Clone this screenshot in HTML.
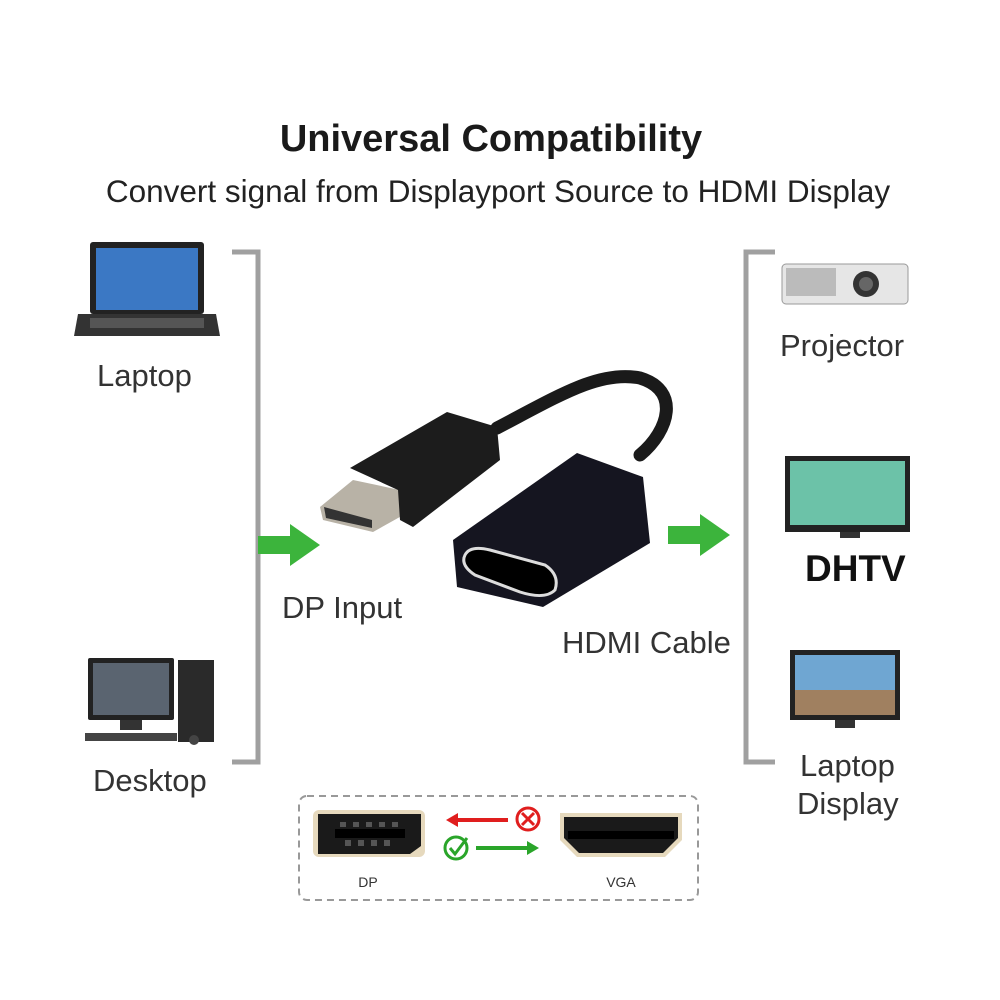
<!DOCTYPE html>
<html><head><meta charset="utf-8"><style>
body{margin:0;background:#fff;width:1000px;height:1000px;overflow:hidden;font-family:"Liberation Sans",sans-serif}
svg{display:block}
</style></head><body>
<svg width="1000" height="1000" viewBox="0 0 1000 1000" font-family="Liberation Sans, sans-serif">
<rect width="1000" height="1000" fill="#fff"/>
<text x="491" y="151" font-size="38" font-weight="bold" text-anchor="middle" fill="#1a1a1a">Universal Compatibility</text>
<text x="498" y="202" font-size="31.5" text-anchor="middle" fill="#222">Convert signal from Displayport Source to HDMI Display</text>
<!-- brackets -->
<path d="M232 252 H258 V762 H232" fill="none" stroke="#a0a0a0" stroke-width="5"/>
<path d="M775 252 H746 V762 H775" fill="none" stroke="#a0a0a0" stroke-width="5"/>
<!-- green arrows -->
<polygon points="258,536 290,536 290,524 320,545 290,566 290,554 258,554" fill="#3cb43c"/>
<polygon points="668,526 700,526 700,514 730,535 700,556 700,544 668,544" fill="#3cb43c"/>
<!-- laptop -->
<rect x="90" y="242" width="114" height="72" rx="3" fill="#222"/>
<rect x="96" y="248" width="102" height="62" fill="#3b78c4"/>
<polygon points="78,314 216,314 220,336 74,336" fill="#333"/>
<rect x="90" y="318" width="114" height="10" fill="#555"/>
<text x="97" y="386" font-size="31" fill="#333">Laptop</text>
<!-- desktop -->
<rect x="88" y="658" width="86" height="62" rx="2" fill="#222"/>
<rect x="93" y="663" width="76" height="52" fill="#5a6470"/>
<rect x="120" y="720" width="22" height="10" fill="#333"/>
<rect x="178" y="660" width="36" height="82" fill="#2a2a2a"/>
<rect x="85" y="733" width="92" height="8" fill="#444"/>
<circle cx="194" cy="740" r="5" fill="#444"/>
<text x="93" y="791" font-size="31" fill="#333">Desktop</text>
<!-- DP input / HDMI cable labels -->
<text x="282" y="618" font-size="31" fill="#333">DP Input</text>
<text x="562" y="653" font-size="31" fill="#333">HDMI Cable</text>
<!-- adapter -->
<path d="M497 428 C560 395 600 370 640 378 C680 390 670 430 640 455" fill="none" stroke="#1a1a1a" stroke-width="13" stroke-linecap="round"/>
<polygon points="353,480 400,490 407,513 373,532 323,520 320,507" fill="#b8b2a6"/>
<polygon points="324,507 372,520 372,528 326,518" fill="#333"/>
<polygon points="350,468 447,412 497,427 500,460 413,527 400,520 398,490" fill="#1c1c1c"/>
<polygon points="453,540 577,453 643,477 650,543 543,607 457,587" fill="#151520"/>
<path d="M465 555 Q470 545 490 550 L545 565 Q560 575 555 590 Q545 600 520 592 L475 575 Q460 565 465 555Z" fill="#000" stroke="#ddd" stroke-width="3"/>
<!-- projector -->
<rect x="782" y="264" width="126" height="40" rx="4" fill="#e6e6e6" stroke="#999"/>
<rect x="786" y="268" width="50" height="28" fill="#bbb"/>
<circle cx="866" cy="284" r="13" fill="#333"/>
<circle cx="866" cy="284" r="7" fill="#666"/>
<text x="780" y="356" font-size="31" fill="#333">Projector</text>
<!-- TV -->
<rect x="785" y="456" width="125" height="76" fill="#222"/>
<rect x="790" y="461" width="115" height="64" fill="#6cc2a8"/>
<rect x="840" y="532" width="20" height="6" fill="#333"/>
<text x="805" y="581" font-size="37" font-weight="bold" fill="#111">DHTV</text>
<!-- monitor -->
<rect x="790" y="650" width="110" height="70" fill="#222"/>
<rect x="795" y="655" width="100" height="60" fill="#6fa6d2"/>
<rect x="795" y="690" width="100" height="25" fill="#a08060"/>
<rect x="835" y="720" width="20" height="8" fill="#333"/>
<text x="800" y="776" font-size="31" fill="#333">Laptop</text>
<text x="797" y="814" font-size="31" fill="#333">Display</text>
<!-- bottom box -->
<rect x="299" y="796" width="399" height="104" rx="8" fill="none" stroke="#999" stroke-width="2" stroke-dasharray="7,5"/>
<rect x="313" y="810" width="112" height="47" rx="6" fill="#e6d9bd"/>
<polygon points="318,814 421,814 421,846 410,854 318,854" fill="#1a1a1a"/>
<rect x="335" y="829" width="70" height="9" fill="#000"/>
<g fill="#555"><rect x="340" y="822" width="6" height="5"/><rect x="353" y="822" width="6" height="5"/><rect x="366" y="822" width="6" height="5"/><rect x="379" y="822" width="6" height="5"/><rect x="392" y="822" width="6" height="5"/>
<rect x="345" y="840" width="6" height="6"/><rect x="358" y="840" width="6" height="6"/><rect x="371" y="840" width="6" height="6"/><rect x="384" y="840" width="6" height="6"/></g>
<polygon points="560,813 682,813 682,840 665,857 577,857 560,840" fill="#e6d9bd"/>
<polygon points="564,817 678,817 678,838 663,853 579,853 564,838" fill="#1a1a1a"/>
<rect x="568" y="831" width="106" height="8" fill="#000"/>
<line x1="508" y1="820" x2="455" y2="820" stroke="#e01e1e" stroke-width="4"/>
<polygon points="446,820 458,813 458,827" fill="#e01e1e"/>
<circle cx="528" cy="819" r="11" fill="none" stroke="#e01e1e" stroke-width="3"/>
<path d="M522 813 L534 825 M534 813 L522 825" stroke="#e01e1e" stroke-width="3"/>
<circle cx="456" cy="848" r="11" fill="none" stroke="#2aa52a" stroke-width="3"/>
<path d="M450 848 L455 854 L467 838" fill="none" stroke="#2aa52a" stroke-width="3"/>
<line x1="476" y1="848" x2="530" y2="848" stroke="#2aa52a" stroke-width="4"/>
<polygon points="539,848 527,841 527,855" fill="#2aa52a"/>
<text x="368" y="887" font-size="14" text-anchor="middle" fill="#333">DP</text>
<text x="621" y="887" font-size="14" text-anchor="middle" fill="#333">VGA</text>
</svg>
</body></html>
